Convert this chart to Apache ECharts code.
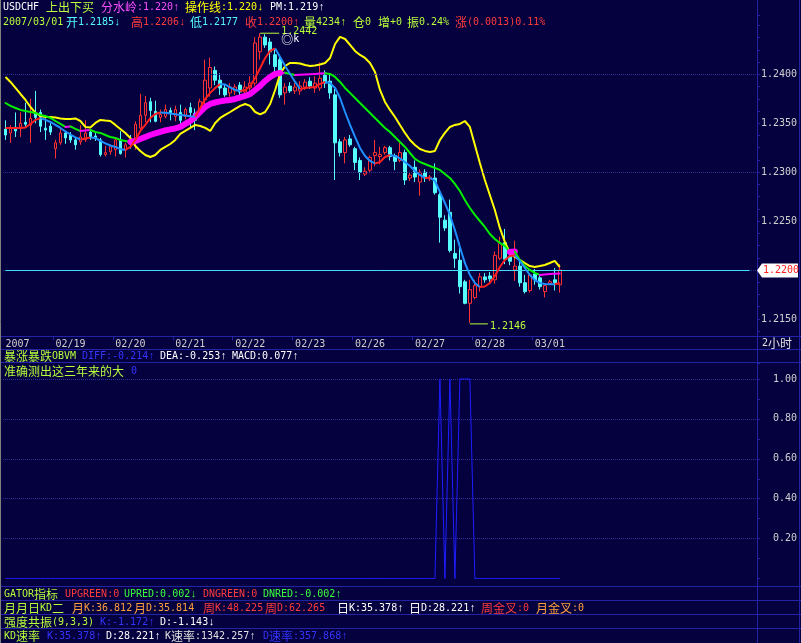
<!DOCTYPE html>
<html>
<head>
<meta charset="utf-8">
<title>USDCHF 2小时</title>
<script src="https://cdn.jsdelivr.net/npm/echarts@6/dist/echarts.min.js"></script>
<style>
html,body{margin:0;padding:0;background:#05003e;overflow:hidden;}
#chart{width:801px;height:643px;}
</style>
</head>
<body>
<div id="chart"></div>
<script>
// ---------------- data (2-hour bars, 2007/02/16 .. 2007/03/01) ----------------
const barOpen = [
1.2344,1.2340,1.2346,1.2346,1.2351,1.2348,1.2360,1.2361,1.2345,1.2347,
1.2324,1.2330,1.2340,1.2338,1.2333,1.2331,1.2333,1.2341,1.2337,1.2333,
1.2318,1.2321,1.2323,1.2333,1.2323,1.2333,1.2331,1.2345,1.2358,1.2372,
1.2362,1.2356,1.2357,1.2363,1.2357,1.2361,1.2357,1.2366,1.2360,1.2360,
1.2374,1.2386,1.2404,1.2394,1.2386,1.2381,1.2383,1.2389,1.2382,1.2386,
1.2391,1.2423,1.2438,1.2433,1.2420,1.2415,1.2381,1.2388,1.2383,1.2383,
1.2387,1.2393,1.2386,1.2386,1.2399,1.2393,1.2379,1.2331,1.2320,1.2334,
1.2324,1.2312,1.2298,1.2302,1.2317,1.2316,1.2320,1.2325,1.2317,1.2312,
1.2320,1.2294,1.2305,1.2290,1.2300,1.2293,1.2294,1.2277,1.2251,1.2259,
1.2217,1.2210,1.2188,1.2166,1.2172,1.2183,1.2193,1.2194,1.2190,1.2212,
1.2228,1.2214,1.2200,1.2204,1.2187,1.2179,1.2196,1.2192,1.2178,1.2186,
1.2190,1.2185];
const barClose = [
1.2338,1.2345,1.2342,1.2350,1.2349,1.2355,1.2356,1.2347,1.2343,1.2341,
1.2330,1.2340,1.2335,1.2333,1.2328,1.2336,1.2340,1.2336,1.2335,1.2318,
1.2320,1.2326,1.2333,1.2319,1.2328,1.2330,1.2349,1.2358,1.2371,1.2363,
1.2352,1.2359,1.2364,1.2360,1.2364,1.2353,1.2364,1.2361,1.2353,1.2372,
1.2394,1.2407,1.2394,1.2386,1.2379,1.2387,1.2387,1.2382,1.2387,1.2391,
1.2432,1.2438,1.2430,1.2423,1.2408,1.2379,1.2387,1.2383,1.2387,1.2388,
1.2392,1.2388,1.2391,1.2396,1.2391,1.2381,1.2330,1.2320,1.2333,1.2328,
1.2310,1.2300,1.2301,1.2315,1.2320,1.2318,1.2325,1.2316,1.2311,1.2320,
1.2292,1.2297,1.2295,1.2300,1.2294,1.2295,1.2279,1.2254,1.2243,1.2220,
1.2212,1.2183,1.2166,1.2180,1.2184,1.2193,1.2190,1.2191,1.2215,1.2227,
1.2211,1.2209,1.2204,1.2187,1.2178,1.2195,1.2190,1.2183,1.2184,1.2188,
1.2187,1.2200];
const barHigh = [
1.2353,1.2348,1.2361,1.2361,1.2371,1.2375,1.2383,1.2364,1.2355,1.2350,
1.2333,1.2345,1.2342,1.2341,1.2335,1.2348,1.2353,1.2344,1.2340,1.2335,
1.2327,1.2328,1.2335,1.2342,1.2330,1.2338,1.2352,1.2380,1.2378,1.2376,
1.2373,1.2364,1.2369,1.2366,1.2368,1.2369,1.2366,1.2371,1.2365,1.2375,
1.2415,1.2417,1.2408,1.2401,1.2389,1.2391,1.2390,1.2392,1.2393,1.2398,
1.2438,1.2442,1.2441,1.2437,1.2425,1.2420,1.2391,1.2392,1.2391,1.2393,
1.2395,1.2397,1.2398,1.2412,1.2404,1.2401,1.2385,1.2334,1.2336,1.2338,
1.2326,1.2315,1.2305,1.2317,1.2333,1.2326,1.2327,1.2327,1.2319,1.2330,
1.2323,1.2299,1.2312,1.2303,1.2303,1.2297,1.2309,1.2282,1.2256,1.2272,
1.2231,1.2228,1.2190,1.2190,1.2190,1.2197,1.2197,1.2198,1.2219,1.2234,
1.2242,1.2221,1.2230,1.2210,1.2195,1.2197,1.2201,1.2195,1.2186,1.2190,
1.2202,1.2206];
const barLow = [
1.2333,1.2330,1.2336,1.2336,1.2346,1.2330,1.2350,1.2341,1.2333,1.2338,
1.2314,1.2328,1.2329,1.2330,1.2323,1.2328,1.2331,1.2333,1.2332,1.2316,
1.2316,1.2318,1.2316,1.2318,1.2315,1.2324,1.2323,1.2342,1.2351,1.2351,
1.2351,1.2351,1.2355,1.2353,1.2352,1.2348,1.2354,1.2346,1.2343,1.2358,
1.2364,1.2377,1.2389,1.2379,1.2377,1.2377,1.2379,1.2378,1.2380,1.2383,
1.2388,1.2415,1.2427,1.2410,1.2401,1.2376,1.2369,1.2381,1.2380,1.2379,
1.2384,1.2385,1.2381,1.2383,1.2386,1.2375,1.2292,1.2316,1.2309,1.2326,
1.2302,1.2292,1.2296,1.2299,1.2306,1.2308,1.2318,1.2312,1.2302,1.2310,
1.2287,1.2291,1.2290,1.2276,1.2290,1.2291,1.2277,1.2228,1.2240,1.2218,
1.2202,1.2176,1.2165,1.2146,1.2170,1.2178,1.2187,1.2188,1.2186,1.2210,
1.2206,1.2205,1.2189,1.2183,1.2176,1.2177,1.2185,1.2180,1.2172,1.2185,
1.2179,1.2177];
// PM fast line (red rising / blue falling)
const pmLine = [
1.23452,1.23452,1.23452,1.23452,1.23457,1.23493,1.23534,1.23554,1.23534,1.23513,
1.23483,1.23452,1.23416,1.23385,1.23355,1.23334,1.23345,1.23355,1.23350,1.23319,
1.23294,1.23273,1.23258,1.23237,1.23227,1.23258,1.23329,1.23421,1.23483,1.23554,
1.23595,1.23610,1.23607,1.23600,1.23593,1.23585,1.23580,1.23572,1.23566,1.23656,
1.23748,1.23810,1.23861,1.23902,1.23896,1.23866,1.23840,1.23830,1.23840,1.23881,
1.23963,1.24065,1.24167,1.24239,1.24264,1.24177,1.24085,1.24004,1.23922,1.23850,
1.23861,1.23866,1.23871,1.23902,1.23922,1.23912,1.23861,1.23758,1.23615,1.23483,
1.23360,1.23247,1.23166,1.23115,1.23089,1.23104,1.23155,1.23176,1.23166,1.23140,
1.23104,1.23063,1.23012,1.22972,1.22941,1.22943,1.22910,1.22798,1.22685,1.22563,
1.22409,1.22236,1.22072,1.21950,1.21868,1.21827,1.21832,1.21868,1.21939,1.22031,
1.22103,1.22144,1.22149,1.22093,1.22021,1.21950,1.21898,1.21868,1.21858,1.21856,
1.21854,1.21868];
// 分水岭 watershed line (magenta rising / green falling)
const watershed = [
1.23707,1.23677,1.23656,1.23636,1.23626,1.23615,1.23605,1.23585,1.23574,1.23554,
1.23523,1.23493,1.23462,1.23467,1.23442,1.23421,1.23426,1.23431,1.23411,1.23401,
1.23380,1.23360,1.23350,1.23329,1.23319,1.23309,1.23319,1.23339,1.23360,1.23380,
1.23396,1.23411,1.23426,1.23437,1.23447,1.23462,1.23493,1.23523,1.23564,1.23615,
1.23666,1.23697,1.23712,1.23723,1.23733,1.23738,1.23748,1.23764,1.23779,1.23799,
1.23840,1.23881,1.23932,1.23973,1.24004,1.24014,1.24016,1.24004,1.23994,1.23996,
1.23999,1.24001,1.24004,1.24008,1.24012,1.24004,1.23973,1.23922,1.23861,1.23810,
1.23758,1.23707,1.23656,1.23605,1.23554,1.23503,1.23452,1.23411,1.23360,1.23309,
1.23258,1.23196,1.23135,1.23104,1.23084,1.23063,1.23043,1.23023,1.22982,1.22941,
1.22880,1.22808,1.22716,1.22634,1.22563,1.22501,1.22440,1.22368,1.22317,1.22277,
1.22246,1.22185,1.22190,1.22103,1.22041,1.22001,1.21970,1.21950,1.21955,1.21960,
1.21962,1.21965];
// 操作线 operation line (yellow)
const opLine = [
1.23973,1.23922,1.23861,1.23799,1.23738,1.23666,1.23605,1.23574,1.23564,1.23564,
1.23559,1.23549,1.23544,1.23544,1.23549,1.23523,1.23462,1.23457,1.23503,1.23534,
1.23528,1.23523,1.23483,1.23442,1.23401,1.23350,1.23268,1.23217,1.23176,1.23155,
1.23176,1.23227,1.23258,1.23288,1.23329,1.23391,1.23421,1.23452,1.23483,1.23472,
1.23452,1.23421,1.23503,1.23554,1.23585,1.23615,1.23646,1.23677,1.23697,1.23677,
1.23615,1.23590,1.23615,1.23697,1.23840,1.24004,1.24085,1.24116,1.24116,1.24111,
1.24096,1.24085,1.24091,1.24101,1.24116,1.24167,1.24310,1.24382,1.24361,1.24300,
1.24239,1.24198,1.24167,1.24116,1.24024,1.23840,1.23718,1.23636,1.23564,1.23483,
1.23401,1.23329,1.23278,1.23237,1.23217,1.23207,1.23217,1.23329,1.23401,1.23462,
1.23483,1.23493,1.23523,1.23462,1.23278,1.23094,1.22920,1.22767,1.22614,1.22430,
1.22287,1.22180,1.22134,1.22103,1.22072,1.22041,1.22031,1.22041,1.22052,1.22072,
1.22093,1.22031];
// lower panel indicator (准确测出这三年来的大)
const bigMove = [
0,0,0,0,0,0,0,0,0,0, 0,0,0,0,0,0,0,0,0,0,
0,0,0,0,0,0,0,0,0,0, 0,0,0,0,0,0,0,0,0,0,
0,0,0,0,0,0,0,0,0,0, 0,0,0,0,0,0,0,0,0,0,
0,0,0,0,0,0,0,0,0,0, 0,0,0,0,0,0,0,0,0,0,
0,0,0,0,0,0,0,1,0,1, 0,1,1,1,0,0,0,0,0,0,
0,0,0,0,0,0,0,0,0,0, 0,0];
const dayTicks = [[0,'2007'],[10,'02/19'],[22,'02/20'],[34,'02/21'],[46,'02/22'],[58,'02/23'],[70,'02/26'],[82,'02/27'],[94,'02/28'],[106,'03/01']];
const priceTicks = [1.2150, 1.2200, 1.2250, 1.2300, 1.2350, 1.2400];
const lowerTicks = [0.20, 0.40, 0.60, 0.80, 1.00];

// ---------------- style ----------------
const SLOTS = 151;
const BG = '#05003e', FRAME = '#2323a6', GRIDC = '#2e2e96', AXT = '#d0d0d0';
const MONO = "'DejaVu Sans Mono','Liberation Mono',monospace";
const ARW = "'Liberation Mono','DejaVu Sans Mono',monospace";
const CJK = "'Noto Sans CJK SC','Noto Sans CJK JP',sans-serif";
const YG = '#b8ff3c', GR = '#3cff3c', RD = '#ff3c3c', CY = '#54fcfc', MG = '#ff50ff',
      YE = '#ffff00', WH = '#ffffff', OR = '#ffa040', BL = '#3434ff', LG = '#e0e0e0';

const chart = echarts.init(document.getElementById('chart'));
const cats = Array.from({length: SLOTS}, (_, i) => i);
const candles = barOpen.map((o, i) => [o, barClose[i], barLow[i], barHigh[i]]);
const lastIdx = barClose.length - 1;
const lastClose = barClose[lastIdx];
const dayLabel = new Map(dayTicks);

function segRuns(vals, styleOf) {
  const items = [];
  let cur = null;
  for (let i = 1; i < vals.length; i++) {
    const st = styleOf(i);
    if (!cur || cur.key !== st.key) {
      cur = {key: st.key, coords: [[i - 1, vals[i - 1]]], lineStyle: st.style};
      items.push(cur);
    }
    cur.coords.push([i, vals[i]]);
  }
  return items.map(c => ({coords: c.coords, lineStyle: c.lineStyle}));
}
const pmRuns = segRuns(pmLine, i => pmLine[i] >= pmLine[i - 1]
  ? {key: 'r', style: {color: '#ff2020', width: 2}}
  : {key: 'b', style: {color: '#1e90ff', width: 2}});
const wsRuns = segRuns(watershed, i => {
  if (watershed[i] > watershed[i - 1]) {
    return opLine[i] < watershed[i]
      ? {key: 'mt', style: {color: '#ff00ff', width: 6}}
      : {key: 'm', style: {color: '#ff00ff', width: 2}};
  }
  return {key: 'g', style: {color: '#00f000', width: 2}};
});

const option = {
  backgroundColor: BG,
  animation: false,
  grid: [
    {left: 3, right: 44, top: 15.6, height: 315.6, show: false},
    {left: 3, right: 44, top: 363, height: 215.6, show: false}
  ],
  xAxis: [
    {type: 'category', gridIndex: 0, data: cats, boundaryGap: true, offset: 5,
     axisLine: {show: true, lineStyle: {color: FRAME}},
     axisTick: {show: true, length: 4, interval: idx => dayLabel.has(idx) && idx > 0, lineStyle: {color: FRAME}},
     axisLabel: {show: true, interval: idx => dayLabel.has(idx), formatter: v => dayLabel.get(Number(v)) || '',
                 color: AXT, fontFamily: MONO, fontSize: 10, align: 'left', margin: 3},
     splitLine: {show: false}},
    {type: 'category', gridIndex: 1, data: cats, boundaryGap: true, show: false}
  ],
  yAxis: [
    {type: 'value', gridIndex: 0, position: 'right', min: 1.21375, max: 1.2460, interval: 0.00125,
     axisLine: {show: true, lineStyle: {color: FRAME}},
     axisTick: {show: true, length: 3, lineStyle: {color: FRAME}},
     axisLabel: {color: AXT, fontFamily: MONO, fontSize: 10, margin: 4,
       formatter: v => {
         const hit = priceTicks.find(t => Math.abs(t - v) < 1e-7);
         return (hit !== undefined && Math.abs(hit - lastClose) > 1e-7) ? hit.toFixed(4) : '';
       }},
     splitLine: {show: false}},
    {type: 'value', gridIndex: 1, position: 'right', min: 0, max: 1.08, interval: 0.2,
     axisLine: {show: true, lineStyle: {color: FRAME}},
     axisTick: {show: true, length: 3, lineStyle: {color: FRAME}},
     minorTick: {show: true, splitNumber: 2, length: 3, lineStyle: {color: FRAME}},
     axisLabel: {color: AXT, fontFamily: MONO, fontSize: 10, margin: 40, align: 'right',
       formatter: v => {
         const hit = lowerTicks.find(t => Math.abs(t - v) < 1e-7);
         return hit !== undefined ? hit.toFixed(2) : '';
       }},
     splitLine: {show: true, showMinLine: false, showMaxLine: false, lineStyle: {color: GRIDC, type: 'dotted'}}}
  ],
  series: [
    {type: 'candlestick', xAxisIndex: 0, yAxisIndex: 0, data: candles, barWidth: 3, z: 2,
     itemStyle: {color: BG, color0: '#54fcfc', borderColor: '#ff3232', borderColor0: '#54fcfc', borderWidth: 1},
     markLine: {silent: true, symbol: 'none', animation: false,
       data: priceTicks.filter(t => Math.abs(t - lastClose) > 1e-7).map(t => ({
         yAxis: t, lineStyle: {color: GRIDC, type: 'dotted', width: 1}, label: {show: false}
       })).concat([[
         {coord: [0, lastClose], lineStyle: {color: '#44ddff', type: 'solid', width: 1}, label: {show: false}},
         {coord: [149, lastClose]}
       ]])}},
    {type: 'line', xAxisIndex: 0, yAxisIndex: 0, data: opLine, showSymbol: false, z: 4,
     lineStyle: {color: '#ffff00', width: 2}},
    {type: 'lines', coordinateSystem: 'cartesian2d', xAxisIndex: 0, yAxisIndex: 0, polyline: true,
     data: wsRuns, z: 5, silent: true, lineStyle: {opacity: 1, curveness: 0, cap: 'round', join: 'round'}},
    {type: 'lines', coordinateSystem: 'cartesian2d', xAxisIndex: 0, yAxisIndex: 0, polyline: true,
     data: pmRuns, z: 6, silent: true, lineStyle: {opacity: 1, curveness: 0, join: 'round'}},
    {type: 'line', xAxisIndex: 1, yAxisIndex: 1, data: bigMove, showSymbol: false, z: 3,
     lineStyle: {color: '#1e1eff', width: 1}}
  ]
};
chart.setOption(option);

// ---------------- texts & frame ----------------
function kindOf(ch) {
  if (/[\u2190-\u2199]/.test(ch)) return 'r';
  return /[\u2E80-\u9FFF\uFF00-\uFFEF\u25CE]/.test(ch) ? 'c' : 'a';
}
function rtext(x, y, str, color) {
  let out = '', cur = '', curT = null;
  for (const ch of str) {
    const t = kindOf(ch);
    if (t !== curT && cur) { out += '{' + curT + '|' + cur + '}'; cur = ''; }
    curT = t; cur += ch;
  }
  if (cur) out += '{' + curT + '|' + cur + '}';
  return {type: 'text', x: x, y: y, silent: true, z: 50,
    style: {text: out, fill: color, align: 'left', verticalAlign: 'middle',
      rich: {a: {fontFamily: MONO, fontSize: 10, fill: color},
             r: {fontFamily: ARW, fontSize: 11, fill: color},
             c: {fontFamily: CJK, fontSize: 12, fill: color}}}};
}
function line(x1, y1, x2, y2, color) {
  return {type: 'line', silent: true, z: 40, shape: {x1, y1, x2, y2}, style: {stroke: color, lineWidth: 1}};
}
const textRows = [
  [7,   [[3,'USDCHF',WH],[46,'上出下买',YG],[101,'分水岭:1.220↑',MG],[185,'操作线:1.220↓',YE],[270,'PM:1.219↑',WH]]],
  [22,  [[3,'2007/03/01',YG],[66,'开1.2185↓',CY],[131,'高1.2206↓',RD],[190,'低1.2177',CY],[245,'收1.2200↑',RD],
         [304,'量4234↑',YG],[353,'仓0',YG],[378,'增+0',YG],[407,'振0.24%',YG],[455,'涨(0.0013)0.11%',RD]]],
  [356, [[4,'暴涨暴跌OBVM',YG],[82,'DIFF:-0.214↑',BL],[160,'DEA:-0.253↑',WH],[232,'MACD:0.077↑',WH]]],
  [371, [[4,'准确测出这三年来的大',YG],[131,'0',BL]]],
  [594, [[4,'GATOR指标',YG],[65,'UPGREEN:0',RD],[124,'UPRED:0.002↓',GR],[203,'DNGREEN:0',RD],[263,'DNRED:-0.002↑',GR]]],
  [608, [[4,'月月日KD二',YG],[72,'月K:36.812',OR],[134,'月D:35.814',OR],[203,'周K:48.225',RD],[265,'周D:62.265',RD],
         [337,'日K:35.378↑',WH],[409,'日D:28.221↑',WH],[481,'周金叉:0',RD],[536,'月金叉:0',OR]]],
  [622, [[4,'强度共振(9,3,3)',YG],[100,'K:-1.172↑',BL],[160,'D:-1.143↓',WH]]],
  [636, [[4,'KD速率',YG],[47,'K:35.378↑',BL],[106,'D:28.221↑',WH],[165,'K速率:1342.257↑',LG],[263,'D速率:357.868↑',BL]]],
  [343, [[762,'2小时',LG]]]
];
const els = [];
textRows.forEach(([y, segs]) => segs.forEach(([x, s, c]) => els.push(rtext(x, y, s, c))));

// frame
[336.5, 349.5, 362.5, 586.5, 600.5, 614.5, 628.5].forEach(y => els.push(line(0, y, 801, y, FRAME)));
els.push(line(757.5, 0, 757.5, 643, FRAME));
els.push(line(799.5, 0, 799.5, 643, FRAME));
els.push(line(0.5, 0, 0.5, 643, '#808080'));

// max / min markers
let iMax = 0, iMin = 0;
barHigh.forEach((v, i) => { if (v > barHigh[iMax]) iMax = i; });
barLow.forEach((v, i) => { if (v < barLow[iMin]) iMin = i; });
const pMax = chart.convertToPixel({gridIndex: 0}, [iMax, barHigh[iMax]]);
const pMin = chart.convertToPixel({gridIndex: 0}, [iMin, barLow[iMin]]);
els.push(line(pMax[0], pMax[1], pMax[0] + 19, pMax[1], YG));
els.push(rtext(pMax[0] + 21, pMax[1] - 2, barHigh[iMax].toFixed(4), YG));
els.push(line(pMin[0], pMin[1] + 1, pMin[0] + 18, pMin[1] + 1, YG));
els.push(rtext(pMin[0] + 20, pMin[1] + 4, barLow[iMin].toFixed(4), YG));
els.push(rtext(pMax[0] + 21, pMax[1] + 6, '◎k', WH));

// current price tag
const pTag = chart.convertToPixel({gridIndex: 0}, [lastIdx, lastClose]);
const ty = Math.round(pTag[1]) + 0.5;
els.push({type: 'polygon', silent: true, z: 45,
  shape: {points: [[757, ty], [762, ty - 7], [798, ty - 7], [798, ty + 7], [762, ty + 7]]},
  style: {fill: '#ffffff'}});
els.push({type: 'text', x: 763, y: ty, silent: true, z: 46,
  style: {text: lastClose.toFixed(4), fill: '#ff2020', fontFamily: MONO, fontSize: 10, align: 'left', verticalAlign: 'middle'}});

chart.setOption({graphic: {elements: els}});
</script>
</body>
</html>
